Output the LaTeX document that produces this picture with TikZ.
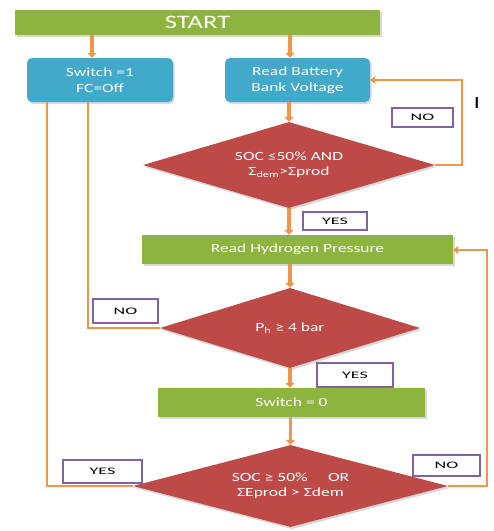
\documentclass[tikz,border=0pt]{standalone}
\usepackage{fontspec}
\setmainfont{Carlito}
\newfontfamily\widefont[FakeStretch=1.4]{Carlito}
\newfontfamily\lblfont[FakeStretch=1.8]{Carlito}
\usetikzlibrary{shapes.geometric,arrows.meta,shadows}
\definecolor{boxgreen}{HTML}{8DB43F}
\definecolor{boxblue}{HTML}{41A9C9}
\definecolor{dred}{HTML}{BE4A47}
\definecolor{flow}{HTML}{F0964A}
\definecolor{lblpurple}{HTML}{7F63A6}
\definecolor{shade}{HTML}{D8D8D8}
\tikzset{
  softshadow/.style={drop shadow={shadow xshift=1.5pt,shadow yshift=-2pt,fill=shade,opacity=1}},
  greenbox/.style={rectangle,fill=boxgreen,text=white,font=\widefont\fontsize{12.5}{14}\selectfont,inner sep=0pt,softshadow},
  bluebox/.style={rectangle,rounded corners=5pt,fill=boxblue,text=white,font=\widefont\fontsize{12.5}{16.5}\selectfont,align=center,inner sep=0pt,softshadow},
  decision/.style={diamond,fill=dred,text=white,font=\widefont\fontsize{12.5}{15}\selectfont,align=center,inner sep=0pt,softshadow},
  lbl/.style={rectangle,draw=lblpurple,line width=1.8pt,fill=white,font=\lblfont\fontsize{10}{11}\selectfont,inner sep=0pt},
  arr/.style={draw=flow,line width=3.5pt,-{Triangle[length=5pt,width=9pt]}},
  loopline/.style={draw=flow,line width=2.5pt},
  looparr/.style={draw=flow,line width=2.5pt,-{Triangle[length=5pt,width=8pt]}}
}
\begin{document}
\begin{tikzpicture}[x=1pt,y=-1pt]
\useasboundingbox (0,0) rectangle (494,531);
\fill[white] (0,0) rectangle (494,531);

% nodes
\node[greenbox,minimum width=365pt,minimum height=25pt,font=\widefont\fontsize{19}{20}\selectfont] (start) at (197.5,22.5) {START};
\node[bluebox,minimum width=146pt,minimum height=44pt] (sw) at (100,80) {Switch =1\\FC=Off};
\node[bluebox,minimum width=145pt,minimum height=44pt] (rb) at (297.5,80) {Read Battery\\Bank Voltage};
\node[decision,aspect=3.4,minimum width=292pt,minimum height=86pt] (d1) at (289,165) {SOC ≤50\% AND\\Σ\textsubscript{dem}>Σprod};
\node[greenbox,minimum width=311pt,minimum height=29pt] (hy) at (297.5,249.5) {Read Hydrogen Pressure};
\node[decision,aspect=3.25,minimum width=260pt,minimum height=80pt] (d2) at (290,328) {P\textsubscript{h} ≥ 4 bar};
\node[greenbox,minimum width=267pt,minimum height=29pt] (s0) at (291.5,402.5) {Switch = 0};
\node[decision,aspect=3.84,minimum width=315pt,minimum height=82pt] (d3) at (290.5,486) {SOC ≥ 50\%\quad\ \ OR\\ΣEprod > Σdem};

% start arrows
\draw[arr] ([xshift=-8pt]sw.north |- start.south) -- ([xshift=-8pt]sw.north);
\draw[arr] ([xshift=-7.5pt]rb.north |- start.south) -- ([xshift=-7.5pt]rb.north);

% main flow
\draw[arr] (d1.north |- rb.south) -- (d1.north);
\draw[arr] (d1.south) -- (d1.south |- hy.north);
\draw[arr] (d2.north |- hy.south) -- (d2.north);
\draw[arr] (d2.south) -- (s0.north -| d2.south);
\draw[arr] (d3.north |- s0.south) -- (d3.north);

% loops
\coordinate (c1) at (462,165);
\coordinate (c2) at (462,80);
\draw[looparr] (d1.east) -- (c1) -- (c2) -- (rb.east);
\coordinate (c3) at (88,328);
\draw[loopline] (d2.west) -- (c3) -- (c3 |- sw.south);
\coordinate (c4) at (47,486);
\draw[loopline] (d3.west) -- (c4) -- (c4 |- sw.south);
\coordinate (c5) at (487,486);
\coordinate (c6) at (487,250);
\draw[looparr] (d3.east) -- (c5) -- (c6) -- (c6 -| hy.east);

% labels
\node[lbl,minimum width=61pt,minimum height=19pt] (no1) at (422.5,117.5) {NO};
\node[font=\fontsize{17}{17}\selectfont\bfseries] (bar) at (477,103) {I};
\node[lbl,minimum width=64pt,minimum height=18pt] (yes1) at (335,221) {YES};
\node[lbl,minimum width=65pt,minimum height=24pt] (no2) at (125.5,311) {NO};
\node[lbl,minimum width=76pt,minimum height=24pt] (yes2) at (355,375) {YES};
\node[lbl,minimum width=79pt,minimum height=23pt] (yes3) at (102.5,471.5) {YES};
\node[lbl,minimum width=67pt,minimum height=21pt] (no3) at (446.5,465.5) {NO};
\end{tikzpicture}
\end{document}
